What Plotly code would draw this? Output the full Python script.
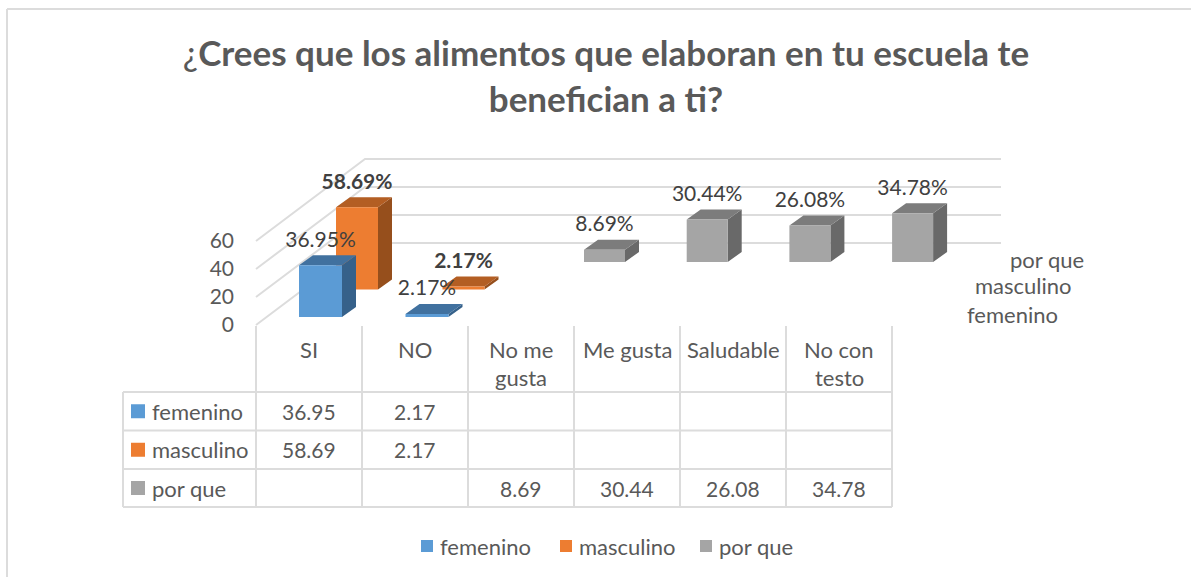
import plotly.graph_objects as go

W, H = 1191, 577
categories = ["SI", "NO", "No me\ngusta", "Me gusta", "Saludable", "No con\ntesto"]
series_names = ["femenino", "masculino", "por que"]
femenino = [36.95, 2.17, None, None, None, None]
masculino = [58.69, 2.17, None, None, None, None]
por_que = [None, None, 8.69, 30.44, 26.08, 34.78]
y_ticks = [0, 20, 40, 60]

series_values = [femenino, masculino, por_que]
PX_X, PX_Y = 106.0, 1.4         # pixels per category / per value unit
X0, Y0 = 256.0, 325.0           # front-left floor corner, pixels
FONT = "Lato"
TXT = "#595959"
LAB = "#404040"
GRID = "#dcdcdc"
NUM_SIZE = 21
WORD_SIZE = 22

# 3D look: per-series placement, in pixels
start_px = [43.0, 80.0, 122.6]
step_px = [106.5, 106.5, 102.7]
base_px = [8.0, 35.5, 63.0]
width_px = [43.0, 42.0, 41.0]
DX, DY = 14.0, 10.0
faces = [("#5b9bd5", "#41719f", "#36618a"),
         ("#ed7d31", "#b35e23", "#964f1c"),
         ("#a5a5a5", "#7c7c7c", "#696969")]
bold_labels = [False, True, False]


def px(x):
    return x / W


def py(y):
    return 1 - y / H


fig = go.Figure()

# walls
wall_dx, wall_dy = 109.0 / PX_X, 82.0 / PX_Y
wall_end = (1001.0 - X0) / PX_X
gx, gy = [], []
for t in y_ticks:
    gx += [0, wall_dx, wall_end, None]
    gy += [t, t + wall_dy, t + wall_dy, None]
fig.add_trace(go.Scatter(x=gx, y=gy, mode="lines", line=dict(color=GRID, width=2),
                         showlegend=False, hoverinfo="skip"))

# bars, back to front
label_x, label_y, label_text = {}, {}, {}
for s in [2, 1, 0]:
    vals = series_values[s]
    fx, fy, tx, ty, sx, sy = [], [], [], [], [], []
    lx, ly, lt = [], [], []
    w = width_px[s] / PX_X
    dx, dy = DX / PX_X, DY / PX_Y
    b = base_px[s] / PX_Y
    for i, v in enumerate(vals):
        if v is None:
            continue
        x = (start_px[s] + step_px[s] * i) / PX_X
        fx += [x, x + w, x + w, x, x, None]
        fy += [b, b, b + v, b + v, b, None]
        tx += [x, x + w, x + w + dx, x + dx, x, None]
        ty += [b + v, b + v, b + v + dy, b + v + dy, b + v, None]
        sx += [x + w, x + w + dx, x + w + dx, x + w, x + w, None]
        sy += [b, b + dy, b + v + dy, b + v, b, None]
        lx.append(x + w / 2)
        ly.append(b + v + 24 / PX_Y)
        lt.append(f"<b>{v:.2f}%</b>" if bold_labels[s] else f"{v:.2f}%")
    for xs, ys, col in ((sx, sy, faces[s][2]), (tx, ty, faces[s][1]), (fx, fy, faces[s][0])):
        fig.add_trace(go.Scatter(x=xs, y=ys, mode="lines", fill="toself", fillcolor=col,
                                 line=dict(width=0), showlegend=False, hoverinfo="skip"))
    label_x[s], label_y[s], label_text[s] = lx, ly, lt

for s in [2, 1, 0]:
    fig.add_trace(go.Scatter(x=label_x[s], y=label_y[s], text=label_text[s], mode="text",
                             textposition="middle center",
                             textfont=dict(family=FONT, size=NUM_SIZE, color=LAB),
                             showlegend=False, hoverinfo="skip"))

shapes = []
annotations = []


def line(x0, y0, x1, y1):
    shapes.append(dict(type="line", xref="paper", yref="paper", x0=px(x0), y0=py(y0),
                       x1=px(x1), y1=py(y1), line=dict(color=GRID, width=2)))


def text(x, y, s, anchor="center", size=WORD_SIZE, color=TXT):
    annotations.append(dict(xref="paper", yref="paper", x=px(x), y=py(y), text=s,
                            showarrow=False, xanchor=anchor, yanchor="middle",
                            font=dict(family=FONT, size=size, color=color)))


def swatch(x, cy, size, color):
    shapes.append(dict(type="rect", xref="paper", yref="paper", x0=px(x), x1=px(x + size),
                       y0=py(cy - size / 2), y1=py(cy + size / 2), fillcolor=color,
                       line=dict(width=0)))


# chart frame
line(7, 9, W, 9)
line(7, 9, 7, H)

# data table
col_x = [X0 + PX_X * i for i in range(len(categories) + 1)]
row_y = [392, 430.5, 469, 507]
TLEFT = 123
for y in row_y:
    line(TLEFT, y, col_x[-1], y)
line(TLEFT, row_y[0], TLEFT, row_y[-1])
for x in col_x:
    line(x, 326, x, row_y[-1])

for i, c in enumerate(categories):
    cx = X0 + PX_X * (i + 0.5)
    for k, part in enumerate(c.split("\n")):
        text(cx, 349 + 28 * k, part)

for s, name in enumerate(series_names):
    cy = (row_y[s] + row_y[s + 1]) / 2
    swatch(131, cy, 14, faces[s][0])
    text(150, cy, name, anchor="left")
    for i, v in enumerate(series_values[s]):
        if v is not None:
            text(X0 + PX_X * (i + 0.5), cy, f"{v:.2f}", size=NUM_SIZE)

# depth-axis labels
for name, cx, cy in zip(series_names, [1013, 1023, 1047], [314, 285, 259]):
    text(cx, cy, name)

# bottom legend
for s, (name, kx) in enumerate(zip(series_names, [421, 560, 700])):
    swatch(kx, 546, 12, faces[s][0])
    text(kx + 17, 546, name, anchor="left")

fig.update_layout(
    width=W, height=H, margin=dict(l=0, r=0, t=0, b=0),
    paper_bgcolor="white", plot_bgcolor="white", showlegend=False,
    title=dict(text="¿<b>Crees que los alimentos que elaboran en tu escuela te<br>benefician a ti?</b>",
               x=606 / W, xanchor="center", y=1 - 66 / H, yanchor="top",
               font=dict(family=FONT, size=35, color=TXT)),
    xaxis=dict(range=[-X0 / PX_X, (W - X0) / PX_X], visible=False, fixedrange=True),
    yaxis=dict(range=[(Y0 - H) / PX_Y, Y0 / PX_Y], anchor="free", position=X0 / W,
               tickvals=y_ticks, showgrid=False, zeroline=False, showline=False,
               ticks="", ticklabelstandoff=22, fixedrange=True,
               tickfont=dict(family=FONT, size=NUM_SIZE, color=TXT)),
    shapes=shapes, annotations=annotations,
)

fig.write_html("out.html", post_script="document.body.style.margin='0';",
               config={"displayModeBar": False})
